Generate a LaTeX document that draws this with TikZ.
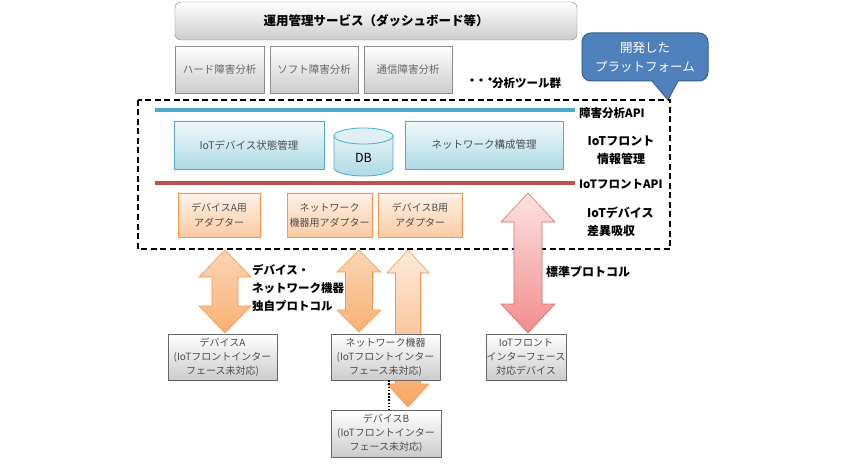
\documentclass[tikz,border=0pt]{standalone}
\usepackage{fontspec}
\setmainfont{Noto Sans CJK JP}
\definecolor{callfill}{HTML}{4F81BD}
\definecolor{callline}{HTML}{385D8A}
\definecolor{apiblue}{HTML}{4BACC6}
\definecolor{apired}{HTML}{C0504D}
\definecolor{orgline}{HTML}{F79646}
\definecolor{pinkline}{HTML}{D9706E}
\definecolor{pinktop}{HTML}{FDE2E2}
\definecolor{pinkbot}{HTML}{F28C8C}
\newcommand\dblarr[6]{(#1,#2) -- (#1+#4,#2+#6) -- (#1+#5,#2+#6) -- (#1+#5,#3-#6) -- (#1+#4,#3-#6) -- (#1,#3) -- (#1-#4,#3-#6) -- (#1-#5,#3-#6) -- (#1-#5,#2+#6) -- (#1-#4,#2+#6) -- cycle}
\tikzset{
  greybox/.style={draw=black!45, top color=white, bottom color=black!20, inner sep=0pt, align=center},
  bottombox/.style={greybox, draw=black!60, text=black!70, font=\fontsize{10}{14}\selectfont},
  toolbox/.style={greybox, text=black!60, font=\fontsize{10.5}{13}\selectfont},
  bluebox/.style={draw=apiblue, top color=apiblue!8, bottom color=apiblue!45, inner sep=0pt, align=center, text=black!70, font=\fontsize{10.5}{13}\selectfont},
  orangebox/.style={draw=orgline, top color=orgline!12, bottom color=orgline!50, inner sep=0pt, align=center, text=black!70, font=\fontsize{10}{15}\selectfont},
  lbl/.style={inner sep=0pt, font=\bfseries\fontsize{11.5}{18}\selectfont},
  orgarrow/.style={draw=orgline, line width=0.6pt, top color=orgline!40, bottom color=orgline!75},
}
\begin{document}
\begin{tikzpicture}[x=1pt,y=-1pt]
\useasboundingbox (0,0) rectangle (850,470);
% top service
\node[greybox, rounded corners=6pt, draw=black!50, minimum width=402pt, minimum height=38pt, font=\bfseries\fontsize{12.5}{15}\selectfont] (svc) at (376,21) {運用管理サービス（ダッシュボード等）};
\node[toolbox, minimum width=89pt, minimum height=47pt] (hw) at (219.5,69.5) {ハード障害分析};
\node[toolbox, minimum width=88pt, minimum height=47pt] (sw) at (314,69.5) {ソフト障害分析};
\node[toolbox, minimum width=88pt, minimum height=47pt] (com) at (408,69.5) {通信障害分析};
\fill (472,80) circle (1.8pt) (481,80) circle (1.8pt) (490,79) circle (1.8pt);
\node[lbl, anchor=west] (tools) at (492,83) {分析ツール群};
% callout
\node[draw=callline, fill=callfill, line width=1pt, rounded corners=9pt, minimum width=126pt, minimum height=48pt, text=white, align=center, font=\fontsize{12.5}{19}\selectfont] (plat) at (645,57) {開発した\\プラットフォーム};
\fill[callfill] (652,80) -- (668,100) -- (678,80) -- cycle;
\draw[callline, line width=1pt] (652,81) -- (668,100) -- (678,81);
% dashed platform box
\draw[line width=1.7pt, dash pattern=on 6pt off 3.5pt] (138,100) rectangle (670,249);
% API lines
\coordinate (b1) at (155,110); \coordinate (b2) at (575,110);
\draw[apiblue, line width=3.5pt] (b1) -- (b2);
\node[lbl, anchor=west] (api1) at (579,113) {障害分析API};
\coordinate (r1) at (155,183); \coordinate (r2) at (575,183);
\draw[apired, line width=3.5pt] (r1) -- (r2);
\node[lbl, anchor=west] (api2) at (579,184) {IoTフロントAPI};
% info management
\node[bluebox, minimum width=150pt, minimum height=48pt] (state) at (249,145) {IoTデバイス状態管理};
\node[bluebox, minimum width=158pt, minimum height=48pt] (net) at (484,145) {ネットワーク構成管理};
\path[draw=apiblue, line width=0.8pt, top color=apiblue!15, bottom color=apiblue!45] (334,136) -- (334,168) arc[start angle=180, end angle=0, x radius=29.5, y radius=8] -- (393,136) -- cycle;
\draw[apiblue, line width=0.8pt, fill=apiblue!18] (363.5,136) ellipse[x radius=29.5, y radius=8];
\node[inner sep=0pt, font=\fontsize{12.5}{14}\selectfont] (db) at (363.5,158) {DB};
\node[lbl, align=center, font=\bfseries\fontsize{12}{18}\selectfont] (infolbl) at (621,150) {IoTフロント\\情報管理};
% adapters
\node[orangebox, minimum width=82pt, minimum height=44pt] (adA) at (219,215) {デバイスA用\\アダプター};
\node[orangebox, minimum width=85pt, minimum height=44pt] (adN) at (329.5,215) {ネットワーク\\機器用アダプター};
\node[orangebox, minimum width=84pt, minimum height=44pt] (adB) at (420,215) {デバイスB用\\アダプター};
\node[lbl, align=left, anchor=west, font=\bfseries\fontsize{12}{18}\selectfont] (difflbl) at (587,222) {IoTデバイス\\差異吸収};
% block arrows
\path[orgarrow, top color=orgline!18, bottom color=orgline!85] \dblarr{408}{250}{407}{21}{12.5}{23};
\path[orgarrow] \dblarr{225}{250}{333}{26}{13}{27};
\path[orgarrow] \dblarr{359}{250}{332}{22}{13.5}{22};
\path[draw=pinkline, line width=0.6pt, top color=pinktop, bottom color=pinkbot] \dblarr{528}{193}{333}{27}{14}{29};
% protocol labels
\node[lbl, align=left, anchor=north west] (prop) at (252,264) {デバイス・\\ネットワーク機器\\独自プロトコル};
\node[lbl, anchor=west, font=\bfseries\fontsize{12}{14}\selectfont] (std) at (546,272) {標準プロトコル};
% bottom devices
\node[bottombox, minimum width=109pt, minimum height=46pt] (devA) at (222.5,357) {デバイスA\\(IoTフロントインター\\フェース未対応)};
\node[bottombox, minimum width=109pt, minimum height=46pt] (netdev) at (385.5,357) {ネットワーク機器\\(IoTフロントインター\\フェース未対応)};
\node[bottombox, minimum width=80pt, minimum height=46pt] (iotdev) at (526,357) {IoTフロント\\インターフェース\\対応デバイス};
\node[bottombox, minimum width=110pt, minimum height=47pt] (devB) at (386,433.5) {デバイスB\\(IoTフロントインター\\フェース未対応)};
\draw[line width=1.6pt, dash pattern=on 1.6pt off 1.6pt] (netdev.south -| 389,0) -- (devB.north -| 389,0);
\end{tikzpicture}
\end{document}
